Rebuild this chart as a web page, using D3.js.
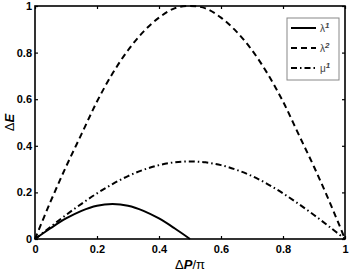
<!DOCTYPE html>
<html>
<head>
<meta charset="utf-8">
<script src="https://cdn.jsdelivr.net/npm/d3@7"></script>
<style>
  body { margin: 0; background: #fff; }
  svg { display: block; }
</style>
</head>
<body>
<div id="chart"></div>
<script>
// sample positions along ΔP/π
const xValues = [0, 0.05, 0.1, 0.15, 0.2, 0.25, 0.3, 0.35, 0.4, 0.45, 0.5,
                 0.55, 0.6, 0.65, 0.7, 0.75, 0.8, 0.85, 0.9, 0.95, 1];
// λ1 only exists on 0..0.5
const lambda1 = [0, 0.046, 0.088, 0.121, 0.143, 0.150, 0.143, 0.121, 0.088, 0.046, 0];
const lambda2 = [0, 0.16, 0.31, 0.45, 0.59, 0.71, 0.81, 0.89, 0.95, 0.99, 1.00,
                 0.99, 0.95, 0.89, 0.81, 0.71, 0.59, 0.45, 0.31, 0.16, 0];
const mu1 = [0, 0.052, 0.103, 0.151, 0.196, 0.236, 0.270, 0.297, 0.317, 0.329, 0.333,
             0.329, 0.317, 0.297, 0.270, 0.236, 0.196, 0.151, 0.103, 0.052, 0];
const tickValues = [0, 0.2, 0.4, 0.6, 0.8, 1];
const legendNames = [["λ", "1"], ["λ", "2"], ["μ", "1"]];

const width = 354, height = 273;
const margin = { left: 35, right: 9, top: 6, bottom: 34 };

const svg = d3.select("#chart").append("svg")
  .attr("width", width)
  .attr("height", height);

const x = d3.scaleLinear().domain([0, 1]).range([margin.left, width - margin.right]);
const y = d3.scaleLinear().domain([0, 1]).range([height - margin.bottom, margin.top]);

const font = "'Liberation Sans', Arial, sans-serif";

// series with their dash styles
const series = [
  { values: lambda1, dash: null },
  { values: lambda2, dash: "6,4" },
  { values: mu1, dash: "6,3,1.5,3" }
];

const line = d3.line()
  .x(d => x(d[0]))
  .y(d => y(d[1]))
  .curve(d3.curveCatmullRom.alpha(0.5));

svg.append("g").selectAll("path")
  .data(series)
  .join("path")
  .attr("d", s => line(s.values.map((v, i) => [xValues[i], v])))
  .attr("fill", "none")
  .attr("stroke", "#000")
  .attr("stroke-width", 2)
  .attr("stroke-dasharray", s => s.dash);

// axes: ticks pointing inwards on all four sides (matlab box style)
const tickLen = 3;
const styleAxis = g => {
  g.select(".domain").remove();
  g.selectAll(".tick line").attr("stroke", "#000").attr("stroke-width", 1.2);
  g.selectAll(".tick text")
    .style("font-family", font)
    .style("font-size", "11px")
    .style("font-weight", "bold")
    .attr("fill", "#000");
};

svg.append("g")
  .attr("transform", `translate(0,${y(0)})`)
  .call(d3.axisBottom(x).tickValues(tickValues).tickFormat(d3.format("")).tickSize(-tickLen).tickPadding(6))
  .call(styleAxis);

svg.append("g")
  .attr("transform", `translate(0,${y(1)})`)
  .call(d3.axisTop(x).tickValues(tickValues).tickFormat("").tickSize(-tickLen))
  .call(styleAxis);

svg.append("g")
  .attr("transform", `translate(${x(0)},0)`)
  .call(d3.axisLeft(y).tickValues(tickValues).tickFormat(d3.format("")).tickSize(-tickLen).tickPadding(3))
  .call(styleAxis);

svg.append("g")
  .attr("transform", `translate(${x(1)},0)`)
  .call(d3.axisRight(y).tickValues(tickValues).tickFormat("").tickSize(-tickLen))
  .call(styleAxis);

// box
svg.append("rect")
  .attr("x", x(0))
  .attr("y", y(1))
  .attr("width", x(1) - x(0))
  .attr("height", y(0) - y(1))
  .attr("fill", "none")
  .attr("stroke", "#000")
  .attr("stroke-width", 1.6);

// axis labels
const xLabel = svg.append("text")
  .attr("x", (x(0) + x(1)) / 2)
  .attr("y", height - 4)
  .attr("text-anchor", "middle")
  .style("font-family", font)
  .style("font-size", "13px");
xLabel.append("tspan").text("Δ");
xLabel.append("tspan").style("font-weight", "bold").style("font-style", "italic").text("P");
xLabel.append("tspan").text("/π");

const yLabel = svg.append("text")
  .attr("transform", `translate(14,${(y(0) + y(1)) / 2}) rotate(-90)`)
  .attr("text-anchor", "middle")
  .style("font-family", font)
  .style("font-size", "13px");
yLabel.append("tspan").text("Δ");
yLabel.append("tspan").style("font-weight", "bold").style("font-style", "italic").text("E");

// legend
const legend = svg.append("g").attr("transform", "translate(287,18)");
legend.append("rect")
  .attr("width", 52)
  .attr("height", 62)
  .attr("fill", "#fff")
  .attr("stroke", "#888")
  .attr("stroke-width", 1);

const rows = legend.selectAll("g.row")
  .data(series)
  .join("g")
  .attr("class", "row")
  .attr("transform", (_, i) => `translate(0,${10 + i * 20})`);

rows.append("line")
  .attr("x1", 4)
  .attr("x2", 29)
  .attr("stroke", "#000")
  .attr("stroke-width", 2)
  .attr("stroke-dasharray", s => s.dash);

const labels = rows.append("text")
  .attr("x", 33)
  .attr("y", 4)
  .style("font-family", font)
  .style("font-size", "10px")
  .attr("fill", "#444");
labels.append("tspan").text((_, i) => legendNames[i][0]);
labels.append("tspan")
  .attr("dy", -4)
  .style("font-size", "8px")
  .style("font-style", "italic")
  .style("font-weight", "bold")
  .text((_, i) => legendNames[i][1]);
</script>
</body>
</html>
